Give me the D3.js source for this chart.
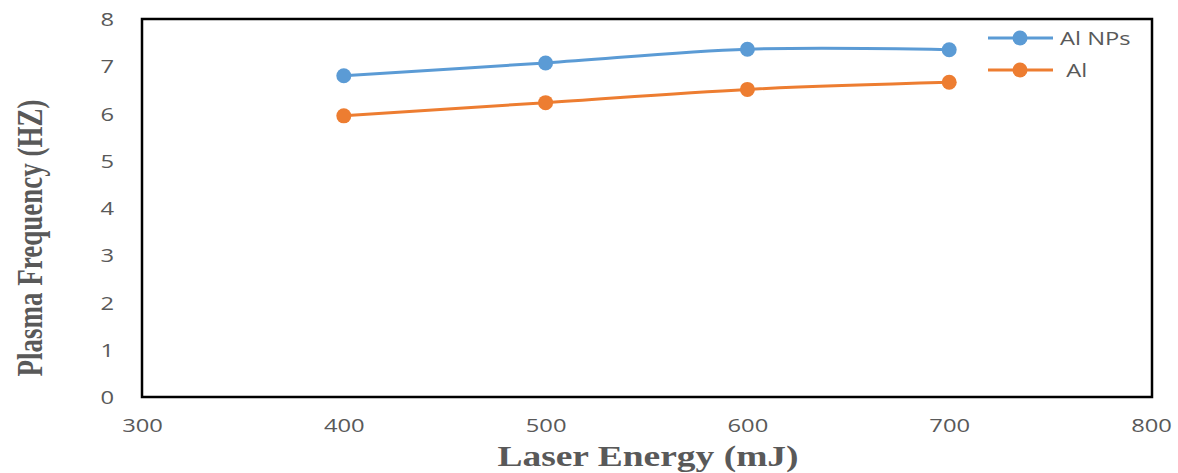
<!DOCTYPE html>
<html>
<head>
<meta charset="utf-8">
<script src="https://cdn.jsdelivr.net/npm/d3@7"></script>
<style>
  html, body { margin: 0; padding: 0; background: #fff; }
  svg { display: block; }
</style>
</head>
<body>
<svg id="chart" width="1178" height="473"></svg>
<script>
// ---- Data ----
const energies = [400, 500, 600, 700];
const alNPs = [6.80, 7.07, 7.36, 7.35];
const al = [5.95, 6.23, 6.51, 6.66];
const xTicks = [300, 400, 500, 600, 700, 800];
const yTicks = [0, 1, 2, 3, 4, 5, 6, 7, 8];
const seriesNames = ["Al NPs", " Al"];
const seriesColors = ["#5B9BD5", "#ED7D31"];

// ---- Layout ----
const svg = d3.select("#chart");
const plotLeft = 142, plotRight = 1151, plotTop = 19, plotBottom = 397;
const sx = 1.25; // horizontal text stretch seen in reference
const textColor = "#595959";

const x = d3.scaleLinear().domain([300, 800]).range([plotLeft, plotRight]);
const y = d3.scaleLinear().domain([0, 8]).range([plotBottom, plotTop]);

// Y axis labels
const yAxis = svg.append("g")
  .attr("transform", `translate(${plotLeft},0)`)
  .call(d3.axisLeft(y).tickValues(yTicks).tickSize(0).tickFormat(d3.format("d")));
yAxis.select(".domain").remove();
yAxis.selectAll("text")
  .attr("x", -28 / sx)
  .attr("dy", "0.35em")
  .attr("transform", `scale(${sx},1)`)
  .attr("fill", textColor)
  .style("font-family", "'Open Sans', 'Liberation Sans', sans-serif")
  .style("font-size", "19px");

// X axis labels
const xAxis = svg.append("g")
  .attr("transform", `translate(0,${plotBottom})`)
  .call(d3.axisBottom(x).tickValues(xTicks).tickSize(0).tickFormat(d3.format("d")));
xAxis.select(".domain").remove();
xAxis.selectAll("text")
  .attr("y", 28)
  .attr("dy", "0.35em")
  .attr("transform", `scale(${sx},1)`)
  .attr("x", 0)
  .attr("fill", textColor)
  .style("font-family", "'Open Sans', 'Liberation Sans', sans-serif")
  .style("font-size", "19px");

// Plot border
svg.append("rect")
  .attr("x", plotLeft).attr("y", plotTop)
  .attr("width", plotRight - plotLeft + 1).attr("height", plotBottom - plotTop)
  .attr("fill", "none")
  .attr("stroke", "#000")
  .attr("stroke-width", 2.5);

// Lines
const series = [alNPs, al];
const line = d3.line()
  .x((d, i) => x(energies[i]))
  .y(d => y(d))
  .curve(d3.curveCatmullRom.alpha(0.5));

series.forEach((vals, si) => {
  svg.append("path")
    .datum(vals)
    .attr("d", line)
    .attr("fill", "none")
    .attr("stroke", seriesColors[si])
    .attr("stroke-width", 3);
  svg.append("g").selectAll("circle")
    .data(vals)
    .join("circle")
    .attr("cx", (d, i) => x(energies[i]))
    .attr("cy", d => y(d))
    .attr("r", 7.5)
    .attr("fill", seriesColors[si]);
});

// Legend
const legY = [38, 70];
seriesNames.forEach((name, i) => {
  const g = svg.append("g");
  g.append("line")
    .attr("x1", 988).attr("x2", 1053)
    .attr("y1", legY[i]).attr("y2", legY[i])
    .attr("stroke", seriesColors[i]).attr("stroke-width", 3);
  g.append("circle")
    .attr("cx", 1020).attr("cy", legY[i]).attr("r", 7.5)
    .attr("fill", seriesColors[i]);
  g.append("text")
    .attr("transform", `translate(1060,${legY[i]}) scale(${sx},1)`)
    .attr("dy", "0.35em")
    .attr("fill", textColor)
    .style("font-family", "'Open Sans', 'Liberation Sans', sans-serif")
    .style("font-size", "19px")
    .style("white-space", "pre")
    .text(name);
});

// Y title
svg.append("text")
  .attr("transform", `translate(30,238) scale(1.32,1) rotate(-90)`)
  .attr("text-anchor", "middle")
  .attr("dy", "0.35em")
  .attr("fill", textColor)
  .style("font-family", "'Liberation Serif', 'Times New Roman', serif")
  .style("font-weight", "bold")
  .style("font-size", "27px")
  .text("Plasma Frequency (HZ)");

// X title
svg.append("text")
  .attr("transform", `translate(648,466) scale(${sx},1)`)
  .attr("text-anchor", "middle")
  .attr("fill", textColor)
  .style("font-family", "'Liberation Serif', 'Times New Roman', serif")
  .style("font-weight", "bold")
  .style("font-size", "30px")
  .text("Laser Energy (mJ)");
</script>
</body>
</html>
